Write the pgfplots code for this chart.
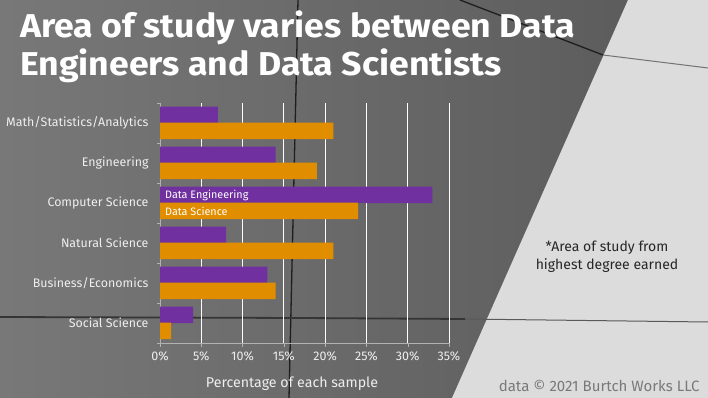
\documentclass[border=0pt]{standalone}
\usepackage{pgfplots}
\pgfplotsset{compat=1.18}
\usepackage{fontspec}
\setmainfont{Fira Sans}
\definecolor{de}{HTML}{7030A0}
\definecolor{ds}{HTML}{E08E00}
\definecolor{lbl}{HTML}{EEEEEE}
\definecolor{bgL}{HTML}{787878}
\definecolor{bgR}{HTML}{5C5C5C}
\definecolor{bgLight}{HTML}{DCDCDC}
\definecolor{crack}{HTML}{1E1E1E}
\begin{document}
\begin{tikzpicture}[x=1pt,y=1pt]
\useasboundingbox (0,0) rectangle (708,398);
\shade[left color=bgL, right color=bgR] (0,0) rectangle (640,398);
\fill[bgLight] (628,398) -- (708,398) -- (708,0) -- (452,0) -- cycle;
% cracks
\draw[crack, line width=1.3pt] (298,398) -- (289,0);
\draw[crack!90!white, line width=1.8pt] (0,81) -- (300,80) -- (465,79);
\draw[gray!70!black, line width=1pt] (465,79) -- (708,76);
\draw[crack, line width=1.3pt] (460,398) -- (603,343);
\draw[gray!90!black, line width=1pt] (603,343) -- (708,330);
\begin{axis}[at={(160pt,55pt)}, anchor=south west, scale only axis,
  width=289pt, height=240pt,
  xmin=0, xmax=35, ymin=-0.5, ymax=5.5,
  xbar, bar width=16.5pt,
  axis x line*=bottom, axis y line*=left,
  axis line style={draw=gray!60, -},
  xtick={0,5,...,35},
  xticklabel={\pgfmathprintnumber{\tick}\%},
  /pgf/number format/assume math mode=true,
  ytick={0,...,5},
  yticklabels={Social Science, Business/Economics, Natural Science, Computer Science, Engineering, Math/Statistics/Analytics},
  minor ytick={-0.5,0.5,...,5.5},
  major tick length=4pt, minor tick length=3pt,
  tick align=outside,
  major y tick style={draw=none},
  tick style={draw=gray!60},
  xmajorgrids, grid style={white, line width=0.8pt},
  xticklabel style={lbl, font=\fontsize{12.5}{14}\selectfont, yshift=-1pt},
  yticklabel style={lbl, font=\fontsize{12.4}{14}\selectfont, xshift=-4pt},
]
\addplot[draw=none, fill=de, bar shift=0pt] coordinates {
(4,0.2) (13,1.2) (8,2.2) (33,3.2) (14,4.2) (7,5.2)};
\addplot[draw=none, fill=ds, bar shift=0pt] coordinates {
(1.35,-0.2) (14,0.8) (21,1.8) (24,2.8) (19,3.8) (21,4.8)};
\node[anchor=west, white, font=\fontsize{10.8}{12}\selectfont] at (axis cs:0.2,3.2) {Data Engineering};
\node[anchor=west, white, font=\fontsize{10.8}{12}\selectfont] at (axis cs:0.2,2.8) {Data Science};
\end{axis}
\node[anchor=base west, white, inner sep=0pt, font=\fontsize{33}{38}\bfseries\selectfont] at (20,360) {\scalebox{1.08}[1]{Area of study varies between Data}};
\node[anchor=base west, white, inner sep=0pt, font=\fontsize{33}{38}\bfseries\selectfont] at (20,322) {\scalebox{1.08}[1]{Engineers and Data Scientists}};
\node[lbl, font=\fontsize{14.2}{16}\selectfont] at (292,14) {Percentage of each sample};
\node[align=center, text=black!85, font=\fontsize{14}{18}\selectfont] at (607,141) {*Area of study from\\highest degree earned};
\node[anchor=base east, text=gray!95!black, font=\fontsize{15}{17}\selectfont] at (703,6) {data © 2021 Burtch Works LLC};
\end{tikzpicture}
\end{document}
